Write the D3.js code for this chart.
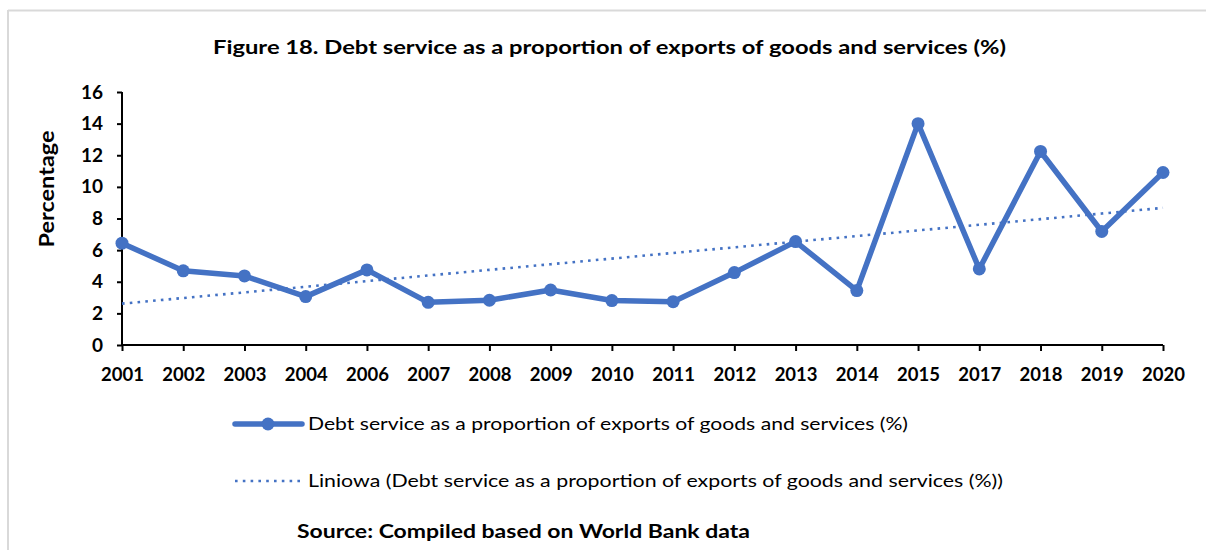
<!DOCTYPE html>
<html>
<head>
<meta charset="utf-8">
<script src="https://cdn.jsdelivr.net/npm/d3@7/dist/d3.min.js"></script>
<style>
  html, body { margin: 0; padding: 0; background: #fff; }
  svg { display: block; font-family: Lato, "Open Sans", sans-serif; }
</style>
</head>
<body>
<svg id="chart" width="1206" height="550"></svg>
<script>
// Years shown on the category axis (2005 and 2016 are absent from the source series)
const years = ["2001","2002","2003","2004","2006","2007","2008","2009","2010","2011",
               "2012","2013","2014","2015","2017","2018","2019","2020"];
// Debt service as a proportion of exports of goods and services (%)
const debtService = [6.44, 4.69, 4.37, 3.06, 4.75, 2.70, 2.83, 3.48, 2.81, 2.74,
                     4.58, 6.54, 3.44, 14.0, 4.81, 12.24, 7.18, 10.91];
const yTicks = [0, 2, 4, 6, 8, 10, 12, 14, 16];

const titleText = "Figure 18. Debt service as a proportion of exports of goods and services (%)";
const seriesName = "Debt service as a proportion of exports of goods and services (%)";
const trendName = "Liniowa (Debt service as a proportion of exports of goods and services (%))";
const sourceText = "Source: Compiled based on World Bank data";

const blue = "#4472C4";
const svg = d3.select("#chart");

// Outer frame: light grey top and left edges
svg.append("line").attr("x1", 8).attr("x2", 1206).attr("y1", 10.5).attr("y2", 10.5)
  .attr("stroke", "#d9d9d9").attr("stroke-width", 2);
svg.append("line").attr("x1", 8).attr("x2", 8).attr("y1", 10).attr("y2", 550)
  .attr("stroke", "#d9d9d9").attr("stroke-width", 2);

const plot = { left: 122, right: 1163, top: 92, bottom: 345 };

const x = d3.scalePoint().domain(years).range([plot.left, plot.right]).padding(0);
const y = d3.scaleLinear().domain([0, 16]).range([plot.bottom, plot.top]);

// Stretched text helper: fixes the drawn width of a label
function stretched(sel, width) {
  return sel.attr("textLength", width).attr("lengthAdjust", "spacingAndGlyphs");
}

// Title
stretched(svg.append("text").attr("x", 213).attr("y", 54)
  .attr("font-weight", "bold").attr("font-size", 19.5).attr("fill", "#000")
  .text(titleText), 793);

// Y axis
const yAxis = svg.append("g").attr("transform", `translate(${plot.left},0)`)
  .call(d3.axisLeft(y).tickValues(yTicks).tickSize(5).tickPadding(14).tickFormat(d3.format("d")));
yAxis.select(".domain").attr("stroke", "#000").attr("stroke-width", 2)
  .attr("d", `M0,${plot.top}V${plot.bottom}`);
yAxis.selectAll(".tick line").attr("stroke", "#000").attr("stroke-width", 2);
yAxis.selectAll(".tick text").attr("font-size", 19).attr("font-weight", "bold")
  .attr("fill", "#000").attr("font-family", "Lato, sans-serif");

// X axis
const xAxis = svg.append("g").attr("transform", `translate(0,${plot.bottom})`)
  .call(d3.axisBottom(x).tickSize(6).tickPadding(17));
xAxis.select(".domain").attr("stroke", "#000").attr("stroke-width", 2)
  .attr("d", `M${plot.left},0H${plot.right}`);
xAxis.selectAll(".tick line").attr("stroke", "#000").attr("stroke-width", 2);
xAxis.selectAll(".tick text").attr("font-size", 18.5).attr("font-weight", "bold")
  .attr("fill", "#000").attr("font-family", "Lato, sans-serif");

// Y axis title
stretched(svg.append("text").attr("transform", "translate(54,189) rotate(-90)")
  .attr("text-anchor", "middle").attr("font-weight", "bold").attr("font-size", 20)
  .text("Percentage"), 117);

// Linear trend (least-squares fit over category index)
const n = debtService.length;
const idx = d3.range(n);
const mx = d3.mean(idx), my = d3.mean(debtService);
const slope = d3.sum(idx, i => (i - mx) * (debtService[i] - my)) / d3.sum(idx, i => (i - mx) ** 2);
const intercept = my - slope * mx;
const trend = idx.map(i => intercept + slope * i);

svg.append("path")
  .datum(trend)
  .attr("fill", "none").attr("stroke", blue).attr("stroke-width", 2.6)
  .attr("stroke-dasharray", "2.6 5.2")
  .attr("d", d3.line().x((d, i) => x(years[i])).y(d => y(d)));

// Main series
svg.append("path")
  .datum(debtService)
  .attr("fill", "none").attr("stroke", blue).attr("stroke-width", 5.5)
  .attr("stroke-linejoin", "round")
  .attr("d", d3.line().x((d, i) => x(years[i])).y(d => y(d)));

svg.append("g").selectAll("circle").data(debtService).join("circle")
  .attr("cx", (d, i) => x(years[i])).attr("cy", d => y(d)).attr("r", 6.5)
  .attr("fill", blue);

// Legend
const legend = svg.append("g");
legend.append("line").attr("x1", 235).attr("x2", 302).attr("y1", 424).attr("y2", 424)
  .attr("stroke", blue).attr("stroke-width", 5.5).attr("stroke-linecap", "round");
legend.append("circle").attr("cx", 268).attr("cy", 424).attr("r", 6.5).attr("fill", blue);
stretched(legend.append("text").attr("x", 308).attr("y", 430).attr("font-size", 17).attr("fill", "#000")
  .text(seriesName), 600);

legend.append("line").attr("x1", 235).attr("x2", 302).attr("y1", 481).attr("y2", 481)
  .attr("stroke", blue).attr("stroke-width", 2.6).attr("stroke-dasharray", "2.6 5.2");
stretched(legend.append("text").attr("x", 308).attr("y", 487).attr("font-size", 17).attr("fill", "#000")
  .text(trendName), 695);

// Source note
stretched(svg.append("text").attr("x", 297).attr("y", 538).attr("font-weight", "bold")
  .attr("font-size", 19.5).attr("fill", "#000").text(sourceText), 453);
</script>
</body>
</html>
